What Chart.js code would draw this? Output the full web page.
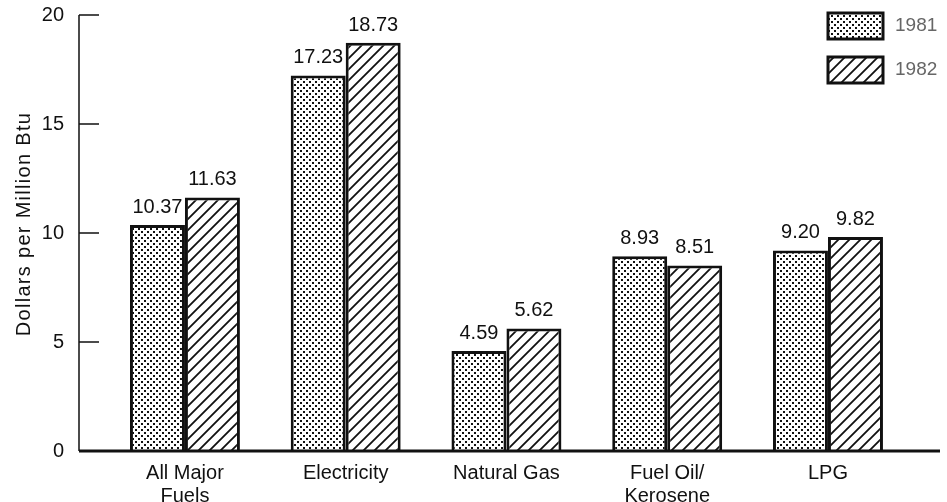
<!DOCTYPE html>
<html>
<head>
<meta charset="utf-8">
<script src="https://cdn.jsdelivr.net/npm/chart.js@4/dist/chart.umd.min.js"></script>
<style>
  html, body { margin: 0; padding: 0; background: #fff; }
  #wrap { width: 947px; height: 502px; }
</style>
</head>
<body>
<div id="wrap"><canvas id="fuelChart" width="947" height="502"></canvas></div>
<script>
const categories = [["All Major", "Fuels"], "Electricity", "Natural Gas", ["Fuel Oil/", "Kerosene"], "LPG"];
const years = ["1981", "1982"];
const values1981 = [10.37, 17.23, 4.59, 8.93, 9.20];
const values1982 = [11.63, 18.73, 5.62, 8.51, 9.82];
const yTicks = [0, 5, 10, 15, 20];
const yTitle = "Dollars per Million Btu";

const FONT = "'Liberation Sans', Arial, Helvetica, sans-serif";

// patterns
function dotPattern() {
  const c = document.createElement("canvas");
  c.width = 6; c.height = 6;
  const g = c.getContext("2d");
  g.fillStyle = "#fff"; g.fillRect(0, 0, 6, 6);
  g.fillStyle = "#111";
  g.fillRect(0, 0, 2, 2);
  g.fillRect(3, 3, 2, 2);
  return g.createPattern(c, "repeat");
}
function hatchPattern() {
  const s = 11;
  const c = document.createElement("canvas");
  c.width = s; c.height = s;
  const g = c.getContext("2d");
  g.fillStyle = "#fff"; g.fillRect(0, 0, s, s);
  g.strokeStyle = "#111"; g.lineWidth = 1.8;
  g.beginPath();
  g.moveTo(-2, s + 2); g.lineTo(s + 2, -2);
  g.moveTo(-2, 2); g.lineTo(2, -2);
  g.moveTo(s - 2, s + 2); g.lineTo(s + 2, s - 2);
  g.stroke();
  return g.createPattern(c, "repeat");
}
const fills = [dotPattern(), hatchPattern()];

const toPoints = arr => arr.map((v, i) => ({ x: i, y: v }));

// value labels above bars
const valueLabels = {
  id: "valueLabels",
  afterDatasetsDraw(chart) {
    const ctx = chart.ctx;
    ctx.save();
    ctx.font = "20px " + FONT;
    ctx.fillStyle = "#111";
    ctx.textAlign = "center";
    ctx.textBaseline = "alphabetic";
    chart.data.datasets.forEach((ds, di) => {
      chart.getDatasetMeta(di).data.forEach((bar, i) => {
        ctx.fillText(ds.data[i].y.toFixed(2), bar.x, bar.y - 12);
      });
    });
    ctx.restore();
  }
};

// inward y ticks + labels, axis lines, y title and legend
const decor = {
  id: "decor",
  afterDraw(chart) {
    const ctx = chart.ctx;
    const a = chart.chartArea;
    const y = chart.scales.y;
    ctx.save();
    ctx.strokeStyle = "#111";
    ctx.lineWidth = 1.5;
    ctx.beginPath();
    ctx.moveTo(a.left, y.getPixelForValue(20));
    ctx.lineTo(a.left, y.getPixelForValue(0));
    yTicks.forEach(t => {
      const py = y.getPixelForValue(t);
      ctx.moveTo(a.left, py);
      ctx.lineTo(a.left + 20, py);
    });
    ctx.stroke();
    ctx.lineWidth = 3;
    ctx.beginPath();
    ctx.moveTo(a.left, y.getPixelForValue(0));
    ctx.lineTo(a.right, y.getPixelForValue(0));
    ctx.stroke();

    ctx.font = "20px " + FONT;
    ctx.fillStyle = "#111";
    ctx.textAlign = "right";
    ctx.textBaseline = "middle";
    yTicks.forEach(t => ctx.fillText(String(t), a.left - 15, y.getPixelForValue(t)));

    // y title, a bit letter-spaced like the original
    ctx.save();
    ctx.translate(30, (a.top + a.bottom) / 2 - 9);
    ctx.rotate(-Math.PI / 2);
    ctx.letterSpacing = "1.3px";
    ctx.textAlign = "center";
    ctx.textBaseline = "alphabetic";
    ctx.fillText(yTitle, 0, 0);
    ctx.restore();

    // legend
    const lx = 828, bw = 55, bh = 26;
    const tops = [13, 57];
    ctx.font = "19px " + FONT;
    ctx.textBaseline = "middle";
    ctx.textAlign = "left";
    years.forEach((yr, i) => {
      ctx.fillStyle = fills[i];
      ctx.fillRect(lx, tops[i], bw, bh);
      ctx.lineWidth = 3;
      ctx.strokeStyle = "#111";
      ctx.strokeRect(lx, tops[i], bw, bh);
      ctx.fillStyle = "#666";
      ctx.fillText(yr, lx + bw + 12, tops[i] + bh / 2);
    });
    ctx.restore();
  }
};

new Chart(document.getElementById("fuelChart"), {
  type: "bar",
  data: {
    datasets: [
      { label: years[0], data: toPoints(values1981), backgroundColor: fills[0], borderColor: "#111", borderWidth: 3 },
      { label: years[1], data: toPoints(values1982), backgroundColor: fills[1], borderColor: "#111", borderWidth: 3 }
    ]
  },
  options: {
    responsive: false,
    animation: false,
    layout: { padding: { left: 0, right: 7, top: 15, bottom: 0 } },
    plugins: { legend: { display: false }, tooltip: { enabled: false } },
    datasets: { bar: { categoryPercentage: 0.684, barPercentage: 1 } },
    scales: {
      x: {
        type: "linear",
        offset: false,
        min: -0.659,
        max: 4.697,
        afterBuildTicks: s => { s.ticks = categories.map((c, i) => ({ value: i })); },
        afterFit: s => { s.height = 51; },
        grid: { display: false, drawTicks: false },
        border: { display: false },
        ticks: {
          padding: 11,
          maxRotation: 0,
          autoSkip: false,
          color: "#111",
          font: { family: FONT, size: 20, lineHeight: 1.15 },
          callback: v => categories[v]
        }
      },
      y: {
        min: 0,
        max: 20,
        afterBuildTicks: s => { s.ticks = yTicks.map(v => ({ value: v })); },
        afterFit: s => { s.width = 79; },
        grid: { display: false, drawTicks: false },
        border: { display: false },
        ticks: { display: false, padding: 0 }
      }
    }
  },
  plugins: [valueLabels, decor]
});
</script>
</body>
</html>
